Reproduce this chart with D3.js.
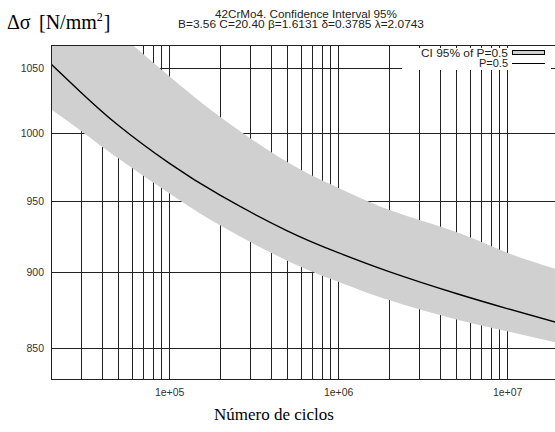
<!DOCTYPE html>
<meta charset="utf-8">
<style>
    body { margin: 0; background: #fff; }
    .tick text { font: 10.5px "Liberation Sans", Arial, sans-serif; fill: #333; }
    .grid line { stroke: #222; stroke-width: 1; shape-rendering: crispEdges; }
</style>

<body>
    <script src="https://cdn.jsdelivr.net/npm/d3@7"></script>
    <script>
        var width = 555,
            height = 432

        // values
        var cycles = [2e4, 3e4, 5e4, 1e5, 2e5, 5e5, 1e6, 2e6, 5e6, 1e7, 2e7]
        var median = [1053.4, 1031.3, 1005.8, 977.4, 954.0, 928.7, 913.5, 900.5, 885.7, 875.7, 866.3]
        var upper = [1136, 1109, 1079, 1043.9, 1012.2, 978.2, 959.4, 943.6, 927.8, 913.5, 901.8]
        var lower = [1018.1, 1001.7, 981.0, 955.4, 932.6, 908.0, 893.7, 881.3, 868.5, 860.8, 853.2]

        var yTicks = [850, 900, 950, 1000, 1050]
        var xLabels = [1e5, 1e6, 1e7]
        var xLabelText = ["1e+05", "1e+06", "1e+07"]

        var plotL = 51, plotR = 558, plotT = 45, plotB = 379

        var x = d3.scaleLog().domain([2e4, 2e7]).range([plotL, plotR])
        var y = d3.scaleLog().domain([830.3, 1068.7]).range([plotB, plotT])

        var svg = d3.select("body").append("svg")
            .attr("width", width)
            .attr("height", height)

        svg.append("clipPath").attr("id", "plot")
            .append("rect")
            .attr("x", plotL).attr("y", plotT)
            .attr("width", plotR - plotL).attr("height", plotB - plotT)

        // minor grid: 1..9 per decade
        var xGrid = []
        for (var e = 4; e <= 7; e++) {
            for (var m = 1; m <= 9; m++) {
                var v = m * Math.pow(10, e)
                if (v > 2e4 && v < 2e7) xGrid.push(v)
            }
        }

        var grid = svg.append("g").attr("class", "grid")
        grid.selectAll(".vx").data(xGrid).enter().append("line")
            .attr("x1", function (d) { return Math.round(x(d)) + 0.5 })
            .attr("x2", function (d) { return Math.round(x(d)) + 0.5 })
            .attr("y1", plotT).attr("y2", plotB)
        grid.selectAll(".hy").data(yTicks).enter().append("line")
            .attr("y1", function (d) { return Math.round(y(d)) + 0.5 })
            .attr("y2", function (d) { return Math.round(y(d)) + 0.5 })
            .attr("x1", plotL).attr("x2", plotR)

        var pts = cycles.map(function (c, i) {
            return { n: c, m: median[i], lo: lower[i], hi: upper[i] }
        })

        var band = d3.area()
            .x(function (d) { return x(d.n) })
            .y0(function (d) { return y(d.lo) })
            .y1(function (d) { return y(d.hi) })
            .curve(d3.curveNatural)

        var line = d3.line()
            .x(function (d) { return x(d.n) })
            .y(function (d) { return y(d.m) })
            .curve(d3.curveNatural)

        var plot = svg.append("g").attr("clip-path", "url(#plot)")
        plot.append("path").datum(pts)
            .attr("d", band)
            .attr("fill", "#d0d0d0")
        plot.append("path").datum(pts)
            .attr("d", line)
            .attr("fill", "none")
            .attr("stroke", "#000")
            .attr("stroke-width", 1.4)

        // legend
        var lg = svg.append("g")
        lg.append("rect")
            .attr("x", 402).attr("y", 48)
            .attr("width", 149).attr("height", 22)
            .attr("fill", "#fff")
        lg.append("text")
            .attr("x", 421).attr("y", 57)
            .attr("textLength", 87).attr("lengthAdjust", "spacingAndGlyphs")
            .style("font", "10px 'Liberation Sans', Arial, sans-serif")
            .attr("fill", "#222")
            .text("CI 95% of P=0.5")
        lg.append("rect")
            .attr("x", 512.5).attr("y", 50.5)
            .attr("width", 32).attr("height", 4)
            .attr("fill", "#d0d0d0")
            .attr("stroke", "#000")
            .attr("stroke-width", 1)
        lg.append("text")
            .attr("x", 479).attr("y", 67)
            .attr("textLength", 29).attr("lengthAdjust", "spacingAndGlyphs")
            .style("font", "10px 'Liberation Sans', Arial, sans-serif")
            .attr("fill", "#222")
            .text("P=0.5")
        lg.append("line")
            .attr("x1", 512).attr("x2", 545)
            .attr("y1", 63.5).attr("y2", 63.5)
            .attr("stroke", "#000")

        // frame
        svg.append("rect")
            .attr("x", plotL + 0.5).attr("y", plotT + 0.5)
            .attr("width", plotR - plotL).attr("height", plotB - plotT)
            .attr("fill", "none")
            .attr("stroke", "#222")
            .attr("stroke-width", 1)

        // axes labels
        var xAxis = d3.axisBottom(x)
            .tickValues(xLabels)
            .tickSize(0)
            .tickPadding(10)
            .tickFormat(function (d, i) { return xLabelText[i] })
        svg.append("g")
            .attr("transform", "translate(0," + plotB + ")")
            .call(xAxis)
            .call(function (g) { g.select(".domain").remove() })

        var yAxis = d3.axisLeft(y)
            .tickValues(yTicks)
            .tickSize(0)
            .tickPadding(7)
            .tickFormat(d3.format("d"))
        svg.append("g")
            .attr("transform", "translate(" + plotL + ",0)")
            .call(yAxis)
            .call(function (g) { g.select(".domain").remove() })

        // titles
        var titleFont = "10px 'Liberation Sans', Arial, sans-serif"
        svg.append("text")
            .attr("x", 215).attr("y", 18)
            .attr("textLength", 182).attr("lengthAdjust", "spacingAndGlyphs")
            .style("font", titleFont).attr("fill", "#222")
            .text("42CrMo4. Confidence Interval 95%")
        svg.append("text")
            .attr("x", 178).attr("y", 27.5)
            .attr("textLength", 246).attr("lengthAdjust", "spacingAndGlyphs")
            .style("font", titleFont).attr("fill", "#222")
            .text("B=3.56 C=20.40 β=1.6131 δ=0.3785 λ=2.0743")

        var ylab = svg.append("text")
            .attr("y", 29)
            .style("font", "20px 'Liberation Serif', 'Times New Roman', serif")
            .attr("fill", "#000")
        ylab.append("tspan").attr("x", 7).text("Δσ")
        ylab.append("tspan").attr("x", 39).text("[N/mm")
        ylab.append("tspan").attr("dy", -8).style("font-size", "12px").text("2")
        ylab.append("tspan").attr("dx", 1).attr("dy", 8).text("]")

        svg.append("text")
            .attr("x", 274).attr("y", 420)
            .attr("text-anchor", "middle")
            .style("font", "17px 'Liberation Serif', 'Times New Roman', serif")
            .attr("fill", "#000")
            .text("Número de ciclos")
    </script>
</body>
